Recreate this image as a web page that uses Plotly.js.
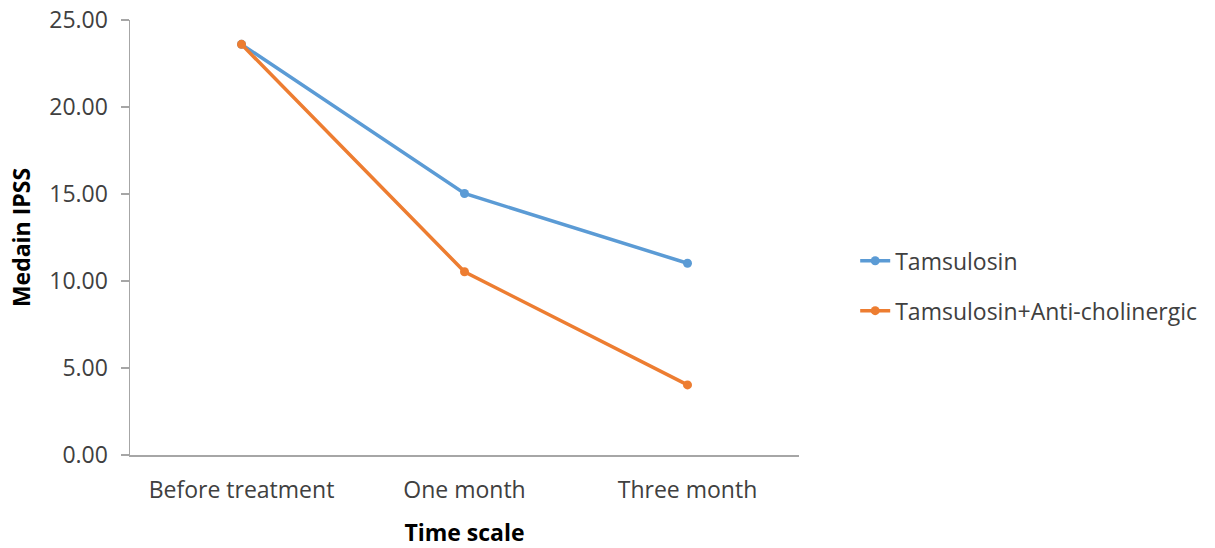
<!DOCTYPE html>
<html>
<head>
<meta charset="utf-8">
<script src="https://cdn.plot.ly/plotly-3.0.1.min.js"></script>
<style>html,body{margin:0;padding:0;background:#fff;}#chart{width:1215px;height:548px;}</style>
</head>
<body>
<div id="chart"></div>
<script>
const categories = ["Before treatment", "One month", "Three month"];
const tamsulosin = [23.6, 15.03, 11.02];
const combination = [23.6, 10.53, 4.03];
const seriesNames = ["Tamsulosin", "Tamsulosin+Anti-cholinergic"];
const yTickVals = [0, 5, 10, 15, 20, 25];
const yTickText = ["0.00", "5.00", "10.00", "15.00", "20.00", "25.00"];

const FONT = "Open Sans, DejaVu Sans, sans-serif";
const TXT = "#404040";
const FS = 23;

const traces = [
  {x: categories, y: tamsulosin, name: seriesNames[0], type: "scatter", mode: "lines+markers",
   legendgroup: "a", line: {color: "#5B9BD5", width: 3.5}, marker: {color: "#5B9BD5", size: 9}},
  {x: categories, y: combination, name: seriesNames[1], type: "scatter", mode: "lines+markers",
   legendgroup: "b", line: {color: "#ED7D31", width: 3.5}, marker: {color: "#ED7D31", size: 9}}
];

const layout = {
  width: 1215, height: 548,
  margin: {l: 130, r: 416, t: 20, b: 93},
  paper_bgcolor: "#fff", plot_bgcolor: "#fff",
  font: {family: FONT, size: FS, color: TXT},
  showlegend: true,
  legend: {x: 1.084, xanchor: "left", y: 0.389, yanchor: "middle",
           traceorder: "grouped", tracegroupgap: 17,
           font: {family: FONT, size: FS, color: TXT}},
  xaxis: {
    type: "category", range: [-0.5, 2.5],
    showline: true, linecolor: "#A6A6A6", linewidth: 1.5,
    showgrid: false, zeroline: false, ticks: "", ticklabelstandoff: 14,
    tickfont: {family: FONT, size: FS, color: TXT},
    title: {text: "<b>Time scale</b>", standoff: 23, font: {family: FONT, size: FS, color: "#000"}}
  },
  yaxis: {
    range: [0, 25], tickvals: yTickVals, ticktext: yTickText,
    showline: true, linecolor: "#A6A6A6", linewidth: 1.5,
    showgrid: false, zeroline: false, ticks: "outside", ticklen: 8, tickcolor: "#A6A6A6", tickwidth: 1.5,
    ticklabelstandoff: 8,
    tickfont: {family: FONT, size: FS, color: TXT},
    title: {text: "<b>Medain IPSS</b>", standoff: 12, font: {family: FONT, size: FS, color: "#000"}}
  }
};

Plotly.newPlot("chart", traces, layout, {displayModeBar: false, staticPlot: true});
</script>
</body>
</html>
